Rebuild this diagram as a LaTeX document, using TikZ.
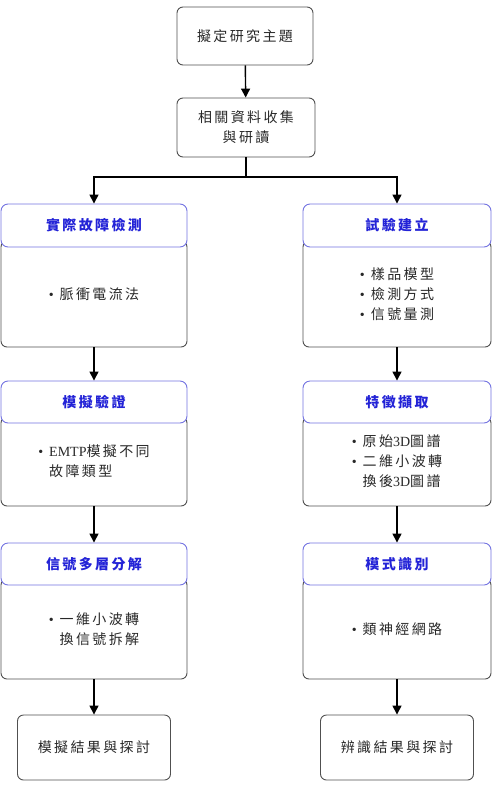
\documentclass[tikz,border=0pt]{standalone}
\usepackage{fontspec}
\setmainfont{Liberation Serif}
\newfontfamily\cjk[LetterSpace=17]{Noto Sans CJK TC}
\usetikzlibrary{positioning, arrows.meta}

\definecolor{headblue}{RGB}{35,35,215}
\definecolor{headline}{RGB}{115,115,225}
\definecolor{boxgray}{RGB}{80,80,80}
\definecolor{textgray}{RGB}{40,40,40}

\newcommand{\itm}{{\rmfamily\textbullet}\hspace{6pt}}

\tikzset{
  stepbox/.style={draw=boxgray, rounded corners=6pt, fill=white, line width=0.9pt,
    font=\cjk\fontsize{14}{20}\selectfont, text=textgray, align=left},
  headbox/.style={draw=headline, rounded corners=7pt, fill=white, line width=0.9pt,
    font=\cjk\bfseries\fontsize{14}{20}\selectfont, text=headblue},
  arr/.style={-{Triangle[length=9pt,width=9pt]}, line width=1.4pt},
}

\begin{document}
\begin{tikzpicture}[x=1pt, y=-1pt]
  \useasboundingbox (0,0) rectangle (493,801);

  % top
  \node[stepbox, minimum width=136pt, minimum height=58pt] (topic) at (245,36) {擬定研究主題};
  \node[stepbox, minimum width=138pt, minimum height=59pt, align=center] (collect) at (246,127.5) {相關資料收集\\與研讀};

  % left column
  \node[stepbox, minimum width=186pt, minimum height=106pt] (detectBody) at (94,294) {\itm 脈衝電流法};
  \node[headbox, minimum width=186pt, minimum height=43pt] (detectHead) at (94,225.5) {實際故障檢測};
  \node[stepbox, minimum width=186pt, minimum height=89pt] (simBody) at (94,461.5)
    {\itm {\rmfamily EMTP}模擬不同\\\hphantom{\itm}故障類型};
  \node[headbox, minimum width=186pt, minimum height=42pt] (simHead) at (94,402) {模擬驗證};
  \node[stepbox, minimum width=186pt, minimum height=100pt] (decBody) at (94,629)
    {\itm 一維小波轉\\\hphantom{\itm}換信號拆解};
  \node[headbox, minimum width=186pt, minimum height=42pt] (decHead) at (94,564) {信號多層分解};
  \node[stepbox, minimum width=153pt, minimum height=65pt] (simResult) at (94,747.5) {模擬結果與探討};

  % right column
  \node[stepbox, minimum width=188pt, minimum height=106pt] (testBody) at (397,294)
    {\itm 樣品模型\\\itm 檢測方式\\\itm 信號量測};
  \node[headbox, minimum width=188pt, minimum height=43pt] (testHead) at (397,225.5) {試驗建立};
  \node[stepbox, minimum width=188pt, minimum height=89pt] (featBody) at (397,461.5)
    {\itm 原始{\rmfamily 3D}圖譜\\\itm 二維小波轉\\\hphantom{\itm}換後{\rmfamily 3D}圖譜};
  \node[headbox, minimum width=188pt, minimum height=42pt] (featHead) at (397,402) {特徵擷取};
  \node[stepbox, minimum width=188pt, minimum height=100pt] (recBody) at (397,629) {\itm 類神經網路};
  \node[headbox, minimum width=188pt, minimum height=42pt] (recHead) at (397,564) {模式識別};
  \node[stepbox, minimum width=153pt, minimum height=65pt] (recResult) at (397,747.5) {辨識結果與探討};

  % connectors
  \coordinate (split) at (246,177);
  \draw[arr] (topic) -- (collect);
  \draw[line width=1.4pt] (collect) -- (split);
  \draw[arr] (split) -| (detectHead.north);
  \draw[arr] (split) -| (testHead.north);
  \draw[arr] (detectBody) -- (simHead);
  \draw[arr] (simBody) -- (decHead);
  \draw[arr] (decBody) -- (simResult);
  \draw[arr] (testBody) -- (featHead);
  \draw[arr] (featBody) -- (recHead);
  \draw[arr] (recBody) -- (recResult);
\end{tikzpicture}
\end{document}
